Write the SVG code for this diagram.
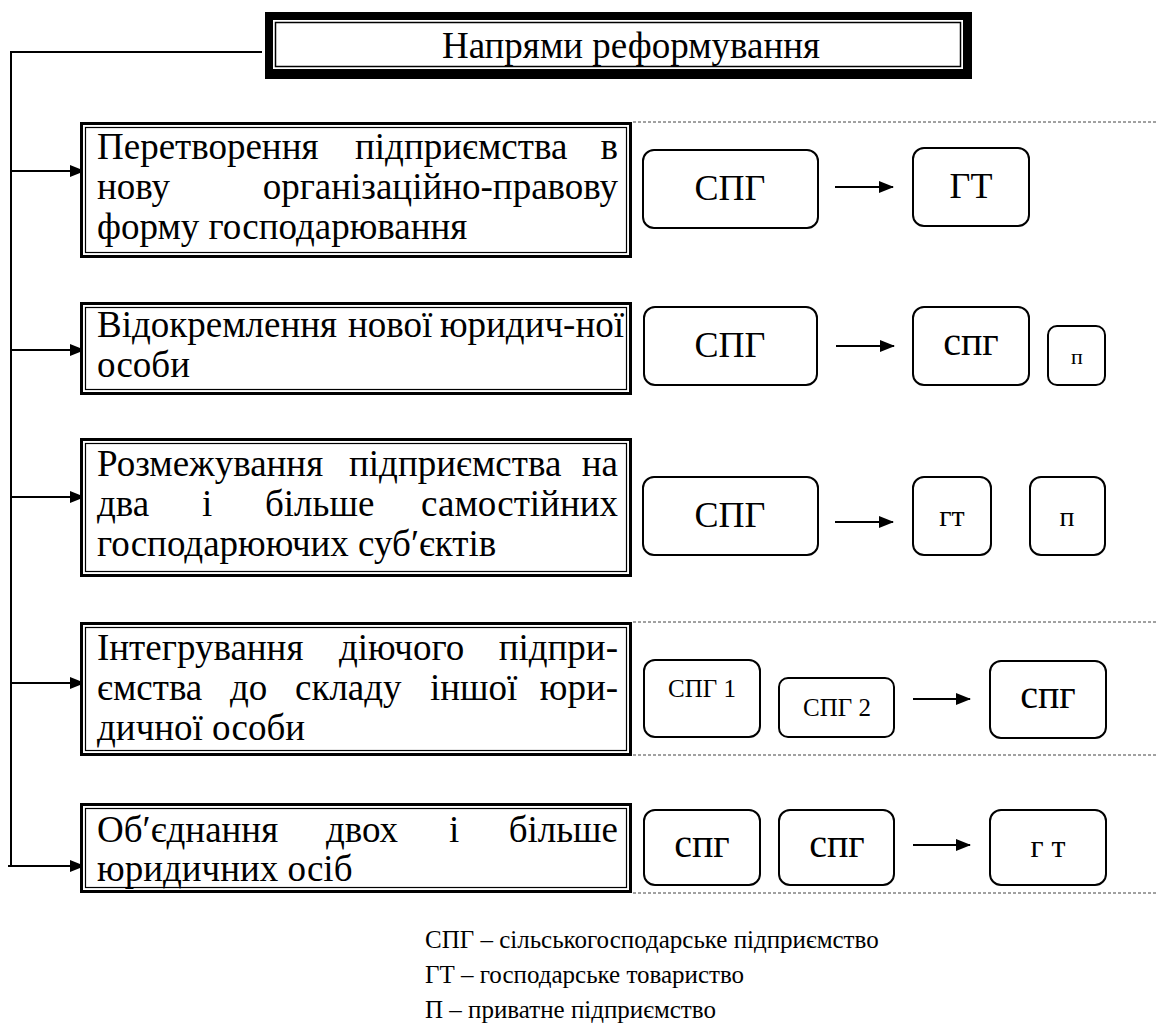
<svg xmlns="http://www.w3.org/2000/svg" width="1157" height="1026" viewBox="0 0 1157 1026">
<defs>
<style>
.outer{fill:#fff;stroke:#000;stroke-width:3}
.inner{fill:none;stroke:#000;stroke-width:1.2}
.rb{fill:#fff;stroke:#000;stroke-width:2}
.ln{fill:none;stroke:#000;stroke-width:2}
.dot{fill:none;stroke:#444;stroke-width:1;stroke-dasharray:3 2}
</style>
<marker id="ah" markerUnits="userSpaceOnUse" markerWidth="15" markerHeight="14" viewBox="0 0 15 14" refX="14" refY="7" orient="auto">
<path d="M0,1 L15,7 L0,13 Z" fill="#000"/>
</marker>
</defs>
<rect width="1157" height="1026" fill="#fff"/>

<g id="connectors">
<path class="ln" d="M262,52 H11 V866"/>
<line class="ln" x1="11" y1="171" x2="84" y2="171" marker-end="url(#ah)"/>
<line class="ln" x1="11" y1="350" x2="84" y2="350" marker-end="url(#ah)"/>
<line class="ln" x1="11" y1="497" x2="84" y2="497" marker-end="url(#ah)"/>
<line class="ln" x1="11" y1="683" x2="84" y2="683" marker-end="url(#ah)"/>
<line class="ln" x1="8" y1="866" x2="84" y2="866" marker-end="url(#ah)"/>
<line class="ln" x1="835" y1="187" x2="893" y2="187" marker-end="url(#ah)"/>
<line class="ln" x1="836" y1="346" x2="894" y2="346" marker-end="url(#ah)"/>
<line class="ln" x1="835" y1="522" x2="893" y2="522" marker-end="url(#ah)"/>
<line class="ln" x1="913" y1="699" x2="970" y2="699" marker-end="url(#ah)"/>
<line class="ln" x1="913" y1="845" x2="970" y2="845" marker-end="url(#ah)"/>
<line class="dot" x1="633" y1="122" x2="1157" y2="122"/>
<line class="dot" x1="633" y1="622" x2="1157" y2="622"/>
<line class="dot" x1="633" y1="755" x2="1157" y2="755"/>
<line class="dot" x1="633" y1="893" x2="1157" y2="893"/>
</g>

<g id="title">
<rect x="265" y="12" width="707" height="67" fill="#000"/>
<rect x="273" y="20" width="690" height="49" fill="#fff"/>
<rect x="275.5" y="22.5" width="685" height="44" fill="none" stroke="#000" stroke-width="1.5"/>
<text font-family="Liberation Serif" font-size="37" x="631" y="58" text-anchor="middle">Напрями реформування</text>
</g>

<g id="box1">
<rect class="outer" x="81.5" y="123.5" width="549" height="133"/>
<rect class="inner" x="85.5" y="127.5" width="541" height="125"/>
<text font-family="Liberation Serif" font-size="37" x="97" y="159">Перетворення</text>
<text font-family="Liberation Serif" font-size="37" x="355" y="159">підприємства</text>
<text font-family="Liberation Serif" font-size="37" x="618" y="159" text-anchor="end">в</text>
<text font-family="Liberation Serif" font-size="37" x="97" y="199">нову</text>
<text font-family="Liberation Serif" font-size="37" x="618" y="199" text-anchor="end">організаційно-правову</text>
<text font-family="Liberation Serif" font-size="37" x="97" y="239">форму господарювання</text>
</g>

<g id="box2">
<rect class="outer" x="81.5" y="303.5" width="549" height="90"/>
<rect class="inner" x="85.5" y="307.5" width="541" height="82"/>
<text font-family="Liberation Serif" font-size="37" x="97" y="337">Відокремлення</text>
<text font-family="Liberation Serif" font-size="37" x="348" y="337">нової</text>
<text font-family="Liberation Serif" font-size="37" x="624" y="337" text-anchor="end">юридич-ної</text>
<text font-family="Liberation Serif" font-size="37" x="97" y="377">особи</text>
</g>

<g id="box3">
<rect class="outer" x="81.5" y="439.5" width="549" height="136"/>
<rect class="inner" x="85.5" y="443.5" width="541" height="128"/>
<text font-family="Liberation Serif" font-size="37" x="97" y="476">Розмежування</text>
<text font-family="Liberation Serif" font-size="37" x="349" y="476">підприємства</text>
<text font-family="Liberation Serif" font-size="37" x="618" y="476" text-anchor="end">на</text>
<text font-family="Liberation Serif" font-size="37" x="97" y="516">два</text>
<text font-family="Liberation Serif" font-size="37" x="202" y="516">і</text>
<text font-family="Liberation Serif" font-size="37" x="265" y="516">більше</text>
<text font-family="Liberation Serif" font-size="37" x="618" y="516" text-anchor="end">самостійних</text>
<text font-family="Liberation Serif" font-size="37" x="97" y="556">господарюючих суб′єктів</text>
</g>

<g id="box4">
<rect class="outer" x="81.5" y="623.5" width="549" height="131"/>
<rect class="inner" x="85.5" y="627.5" width="541" height="123"/>
<text font-family="Liberation Serif" font-size="37" x="97" y="660">Інтегрування</text>
<text font-family="Liberation Serif" font-size="37" x="339" y="660">діючого</text>
<text font-family="Liberation Serif" font-size="37" x="618" y="660" text-anchor="end">підпри-</text>
<text font-family="Liberation Serif" font-size="37" x="97" y="700">ємства</text>
<text font-family="Liberation Serif" font-size="37" x="230" y="700">до</text>
<text font-family="Liberation Serif" font-size="37" x="295" y="700">складу</text>
<text font-family="Liberation Serif" font-size="37" x="430" y="700">іншої</text>
<text font-family="Liberation Serif" font-size="37" x="618" y="700" text-anchor="end">юри-</text>
<text font-family="Liberation Serif" font-size="37" x="97" y="740">дичної особи</text>
</g>

<g id="box5">
<rect class="outer" x="81.5" y="804.5" width="549" height="87"/>
<rect class="inner" x="85.5" y="808.5" width="541" height="79"/>
<text font-family="Liberation Serif" font-size="37" x="97" y="842">Об′єднання</text>
<text font-family="Liberation Serif" font-size="37" x="326" y="842">двох</text>
<text font-family="Liberation Serif" font-size="37" x="449" y="842">і</text>
<text font-family="Liberation Serif" font-size="37" x="618" y="842" text-anchor="end">більше</text>
<text font-family="Liberation Serif" font-size="37" x="97" y="881">юридичних осіб</text>
</g>

<g id="r1-spg">
<rect class="rb" x="643" y="150" width="175" height="78" rx="11"/>
<text font-family="Liberation Serif" font-size="36" x="730" y="200" text-anchor="middle">СПГ</text>
</g>
<g id="r1-gt">
<rect class="rb" x="913" y="148" width="116" height="78" rx="11"/>
<text font-family="Liberation Serif" font-size="36" x="971" y="198" text-anchor="middle">ГТ</text>
</g>

<g id="r2-spg">
<rect class="rb" x="644" y="307" width="173" height="78" rx="11"/>
<text font-family="Liberation Serif" font-size="36" x="730" y="357" text-anchor="middle">СПГ</text>
</g>
<g id="r2-spg2">
<rect class="rb" x="913" y="307" width="116" height="78" rx="11"/>
<text font-family="Liberation Serif" font-size="40" x="971" y="355" text-anchor="middle">спг</text>
</g>
<g id="r2-p">
<rect class="rb" x="1048" y="326" width="57" height="59" rx="9"/>
<text font-family="Liberation Serif" font-size="22" x="1077" y="364" text-anchor="middle">п</text>
</g>

<g id="r3-spg">
<rect class="rb" x="643" y="477" width="175" height="78" rx="11"/>
<text font-family="Liberation Serif" font-size="36" x="730" y="527" text-anchor="middle">СПГ</text>
</g>
<g id="r3-gt">
<rect class="rb" x="913" y="477" width="78" height="78" rx="11"/>
<text font-family="Liberation Serif" font-size="30" x="952" y="526" text-anchor="middle">гт</text>
</g>
<g id="r3-p">
<rect class="rb" x="1030" y="477" width="75" height="78" rx="11"/>
<text font-family="Liberation Serif" font-size="28" x="1067" y="526" text-anchor="middle">п</text>
</g>

<g id="r4-spg1">
<rect class="rb" x="644" y="660" width="116" height="77" rx="11"/>
<text font-family="Liberation Serif" font-size="25" x="702" y="697" text-anchor="middle">СПГ 1</text>
</g>
<g id="r4-spg2">
<rect class="rb" x="779" y="678" width="115" height="59" rx="9"/>
<text font-family="Liberation Serif" font-size="25" x="837" y="716" text-anchor="middle">СПГ 2</text>
</g>
<g id="r4-spg">
<rect class="rb" x="990" y="661" width="116" height="77" rx="11"/>
<text font-family="Liberation Serif" font-size="40" x="1048" y="708" text-anchor="middle">спг</text>
</g>

<g id="r5-spg1">
<rect class="rb" x="644" y="810" width="116" height="75" rx="11"/>
<text font-family="Liberation Serif" font-size="40" x="702" y="857" text-anchor="middle">спг</text>
</g>
<g id="r5-spg2">
<rect class="rb" x="779" y="810" width="115" height="75" rx="11"/>
<text font-family="Liberation Serif" font-size="40" x="837" y="857" text-anchor="middle">спг</text>
</g>
<g id="r5-gt">
<rect class="rb" x="990" y="810" width="116" height="75" rx="11"/>
<text font-family="Liberation Serif" font-size="32" x="1048" y="857" text-anchor="middle">г т</text>
</g>

<g id="legend">
<text font-family="Liberation Serif" font-size="25" x="425" y="948">СПГ – сільськогосподарське підприємство</text>
<text font-family="Liberation Serif" font-size="25" x="425" y="983">ГТ – господарське товариство</text>
<text font-family="Liberation Serif" font-size="25" x="425" y="1018">П – приватне підприємство</text>
</g>
</svg>
